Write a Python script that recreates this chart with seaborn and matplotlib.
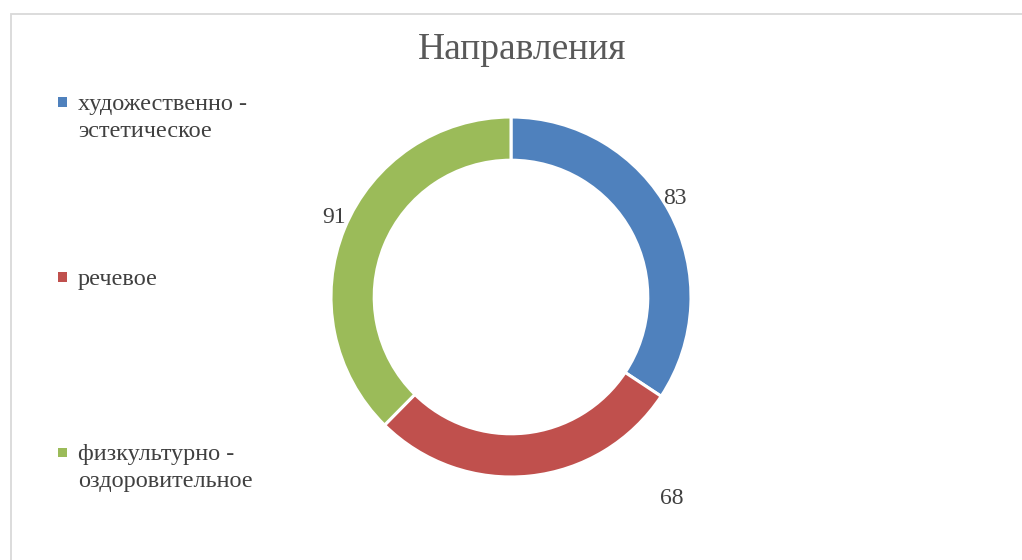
import matplotlib
matplotlib.use("Agg")
import matplotlib.pyplot as plt
import seaborn as sns
from matplotlib.patches import Rectangle

# slices, clockwise from the top
categories = ["художественно -\nэстетическое", "речевое", "физкультурно -\nоздоровительное"]
values = [83, 68, 91]
colors = ["#4F81BD", "#C0504D", "#9BBB59"]
title = "Направления"

# where Excel dropped the value labels (pie units, radius = 1)
label_pos = [(0.911, 0.547), (0.894, -1.12), (-0.983, 0.444)]

sns.set_theme(style="white")
plt.rcParams["font.family"] = ["Liberation Serif", "DejaVu Serif"]

W, H = 1022, 560
fig = plt.figure(figsize=(W / 100, H / 100), dpi=100)
ax = fig.add_axes([0, 0, 1, 1])

pal = sns.color_palette(colors)
ax.pie(values, startangle=90, counterclock=False, colors=pal, radius=1,
       wedgeprops=dict(width=0.24, edgecolor="white", linewidth=2.2))

# 180 px per unit, centre of ring at (511, 297) px from top-left
s = 180.0
cx, cy = 511, 297
ax.set_xlim(-cx / s, (W - cx) / s)
ax.set_ylim(-(H - cy) / s, cy / s)
ax.set_aspect("equal")
ax.axis("off")

for v, (x, y) in zip(values, label_pos):
    ax.text(x, y, str(v), ha="center", va="center", fontsize=17, color="#404040")

fig.text(522 / W, 1 - 50 / H, title, ha="center", va="center", fontsize=27, color="#595959")

# legend on the left, marker lined up with first text line
leg_y = [102, 277, 452]
line_step = 27
for lab, col, y in zip(categories, pal, leg_y):
    fig.add_artist(Rectangle((58 / W, 1 - (y + 4.5) / H), 9 / W, 9 / H,
                             transform=fig.transFigure, color=col, lw=0))
    for i, line in enumerate(lab.split("\n")):
        fig.text(78 / W, 1 - (y + 8 + i * line_step) / H, line, ha="left",
                 va="baseline", fontsize=17.5, color="#404040")

# chart frame (runs off right and bottom edges)
fig.add_artist(Rectangle((10.5 / W, -0.1), 1.2, 1.1 - 14 / H,
                         transform=fig.transFigure, fill=False,
                         edgecolor="#D9D9D9", lw=1.3))

fig.savefig("out.png", dpi=100, facecolor="white")
